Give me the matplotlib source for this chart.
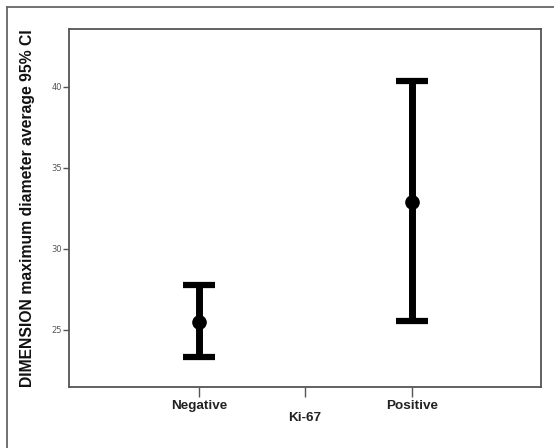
import matplotlib
matplotlib.use("Agg")
import matplotlib.pyplot as plt
from matplotlib.lines import Line2D

categories = ["Negative", "Positive"]
means = [25.5, 32.92]
lower = [23.31, 25.54]
upper = [27.75, 40.39]
yticks = [25, 30, 35, 40]

W, H = 554, 448
fig = plt.figure(figsize=(W / 100, H / 100), dpi=100)
fig.patch.set_facecolor("white")

# outer frame (top and left)
fig.add_artist(Line2D([7 / W, 7 / W], [0, 1 - 7 / H], transform=fig.transFigure,
                      color="#666666", lw=1.3))
fig.add_artist(Line2D([7 / W, 1], [1 - 7 / H, 1 - 7 / H], transform=fig.transFigure,
                      color="#666666", lw=1.3))

ax = fig.add_axes([69 / W, 1 - 387 / H, (541 - 69) / W, (387 - 29) / H])
x = list(range(len(categories)))
yerr = [[m - l for m, l in zip(means, lower)], [u - m for m, u in zip(means, upper)]]
ax.errorbar(x, means, yerr=yerr, fmt="o", color="black", ecolor="black",
            elinewidth=5, capsize=11.5, capthick=4.5, markersize=9.5)

ax.set_xlim(-0.61, 1.606)
ax.set_ylim(21.48, 43.58)
ax.set_yticks(yticks)
ax.set_yticklabels([str(v) for v in yticks], fontsize=6, color="#555555")
ax.set_xticks([0, 0.5, 1])
ax.set_xticklabels(["Negative", "", "Positive"], fontsize=9.7, fontweight="bold",
                   color="#222222", family="Liberation Sans")
ax.tick_params(axis="y", length=4, width=1, color="#555555", pad=1)
ax.tick_params(axis="x", length=7, width=1, color="#555555", pad=2)
for s in ax.spines.values():
    s.set_color("#555555")
    s.set_linewidth(1.3)

ax.set_xlabel("Ki-67", fontsize=9.7, fontweight="bold", color="#222222",
              family="Liberation Sans", labelpad=0)
ax.set_ylabel("DIMENSION maximum diameter average 95% CI", fontsize=11.3,
              fontweight="bold", color="#111111", family="Liberation Sans", labelpad=12)

fig.savefig("out.png", dpi=100)
